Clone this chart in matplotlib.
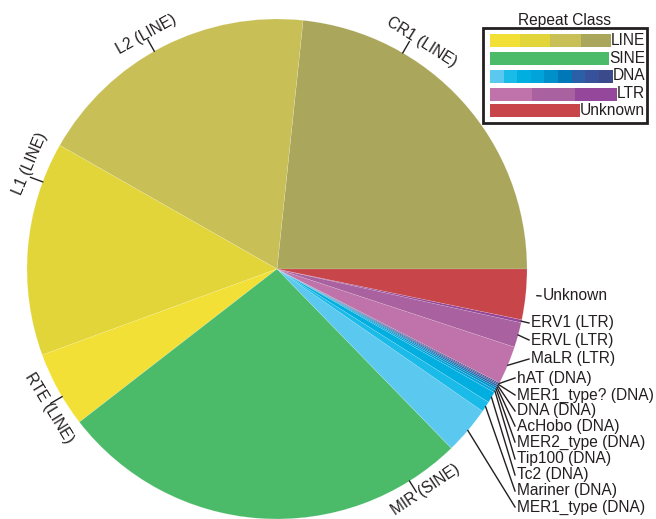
import matplotlib
matplotlib.use("Agg")
import matplotlib.pyplot as plt
from matplotlib.patches import Rectangle
import numpy as np

plt.rcParams["font.family"] = ["Liberation Sans", "DejaVu Sans"]

# slices, counter-clockwise from 3 o'clock (percent of repeats)
names = ["CR1", "L2", "L1", "RTE", "MIR",
         "MER1_type", "Mariner", "Tc2", "Tip100", "MER2_type", "AcHobo", "DNA", "MER1_type?", "hAT",
         "MaLR", "ERVL", "ERV1", "Unknown"]
classes = ["LINE"] * 4 + ["SINE"] + ["DNA"] * 9 + ["LTR"] * 3 + ["Unknown"]
percent = [23.3, 18.4, 13.8, 4.9, 26.75,
           3.08, 0.69, 0.72, 0.17, 0.14, 0.11, 0.11, 0.08, 0.08,
           2.47, 1.61, 0.19, 3.25]

class_names = ["LINE", "SINE", "DNA", "LTR", "Unknown"]
class_colors = {
    "LINE": ["#f3e036", "#e2d53a", "#c8c057", "#aaa75c"],
    "SINE": ["#4bbb6a"],
    "DNA": ["#5bc8ef", "#1bbbe9", "#00afe0", "#00a3da", "#0090c9",
            "#0078b7", "#2b5fa7", "#37519a", "#3b4a8b"],
    "LTR": ["#c073aa", "#a9629f", "#95489b"],
    "Unknown": ["#c8464a"],
}
slice_colors = ["#aaa75c", "#c8c057", "#e2d53a", "#f3e036", "#4bbb6a",
                "#5bc8ef", "#1bbbe9", "#00afe0", "#00a3da", "#0090c9",
                "#0078b7", "#2b5fa7", "#37519a", "#3b4a8b",
                "#c073aa", "#a9629f", "#95489b", "#c8464a"]

TXT = "#231f20"
W, H = 656, 519
CX, CY, R = 277, 250, 250

# rotated labels round the rim: (slice, tick angle, text angle)
rim_labels = [("CR1", 59.8, 57.5), ("L2", 119.4, 119.0), ("L1", 159.6, 157.0),
              ("RTE", 210.7, 211.4), ("MIR", 302.0, 304.0)]
# labels stacked on the right: slice -> (text x, text y from top, line start radius)
side_labels = {
    "Unknown": (543, 296, 1.045),
    "ERV1": (531, 323, 1.0),
    "ERVL": (531, 340, 1.0),
    "MaLR": (531, 359, 1.0),
    "hAT": (517, 378, 1.0),
    "MER1_type?": (517, 395, 1.0),
    "DNA": (517, 411, 1.0),
    "AcHobo": (517, 426, 1.0),
    "MER2_type": (517, 442, 1.0),
    "Tip100": (517, 459, 1.0),
    "Tc2": (517, 475, 1.0),
    "Mariner": (517, 491, 1.0),
    "MER1_type": (517, 507, 1.0),
}


def label_of(name, cls):
    return name if cls == "Unknown" else f"{name} ({cls})"


def main():
    fig = plt.figure(figsize=(W / 100, H / 100), dpi=100)
    ax = fig.add_axes([0, 0, 1, 1])
    ax.pie(percent, colors=slice_colors, startangle=0, counterclock=True,
           center=(CX, CY), radius=R, frame=True,
           wedgeprops=dict(linewidth=0.25, edgecolor=(1, 1, 1, 0.35)))
    ax.set_xlim(0, W)
    ax.set_ylim(0, H)
    ax.set_aspect("equal")
    ax.axis("off")

    fs = 11.2
    idx = {n: i for i, n in enumerate(names)}
    total = sum(percent)
    ends = np.cumsum(percent) / total * 360
    starts = ends - np.array(percent) / total * 360
    mids = (starts + ends) / 2

    for name, tick_a, text_a in rim_labels:
        t = np.radians(tick_a)
        ax.plot([CX + R * np.cos(t), CX + (R + 13) * np.cos(t)],
                [CY + R * np.sin(t), CY + (R + 13) * np.sin(t)], color=TXT, lw=1.0)
        rot = text_a - 90
        va = "bottom"
        off = 11
        if 180 < text_a < 360:
            rot = text_a + 90
            va = "top"
            off = 9
        if rot > 180:
            rot -= 360
        a = np.radians(text_a)
        ax.text(CX + (R + off) * np.cos(a), CY + (R + off) * np.sin(a),
                label_of(name, classes[idx[name]]), rotation=rot, rotation_mode="anchor",
                ha="center", va=va, fontsize=fs, color=TXT)

    for name, (tx, ty, r0) in side_labels.items():
        i = idx[name]
        a = np.radians(mids[i])
        y = H - ty
        ax.plot([CX + R * r0 * np.cos(a), tx - 2], [CY + R * r0 * np.sin(a), y],
                color=TXT, lw=1.0)
        ax.text(tx, y, label_of(name, classes[i]), ha="left", va="center",
                fontsize=fs, color=TXT)

    # legend box
    ax.add_patch(Rectangle((483, H - 123), 164, 95, facecolor="white",
                           edgecolor=TXT, lw=2.0, zorder=5))
    ax.text(565, H - 21, "Repeat Class", ha="center", va="center", fontsize=fs, color=TXT)
    row_y = [40.5, 58.5, 76, 94, 110.5]
    texts = []
    for cname, py in zip(class_names, row_y):
        texts.append(ax.text(645, H - py, cname, ha="right", va="center",
                             fontsize=fs, color=TXT, zorder=7))
    fig.canvas.draw()
    renderer = fig.canvas.get_renderer()
    inv = ax.transData.inverted()
    for cname, py, t in zip(class_names, row_y, texts):
        bb = t.get_window_extent(renderer)
        x_end = inv.transform((bb.x0, 0))[0]
        cols = class_colors[cname]
        seg = (x_end - 490) / len(cols)
        for k, c in enumerate(cols):
            ax.add_patch(Rectangle((490 + k * seg, H - py - 6.5), seg + 0.3, 13,
                                   facecolor=c, edgecolor="none", zorder=6))

    fig.savefig("out.png", dpi=100)
    plt.close(fig)


if __name__ == "__main__":
    main()
